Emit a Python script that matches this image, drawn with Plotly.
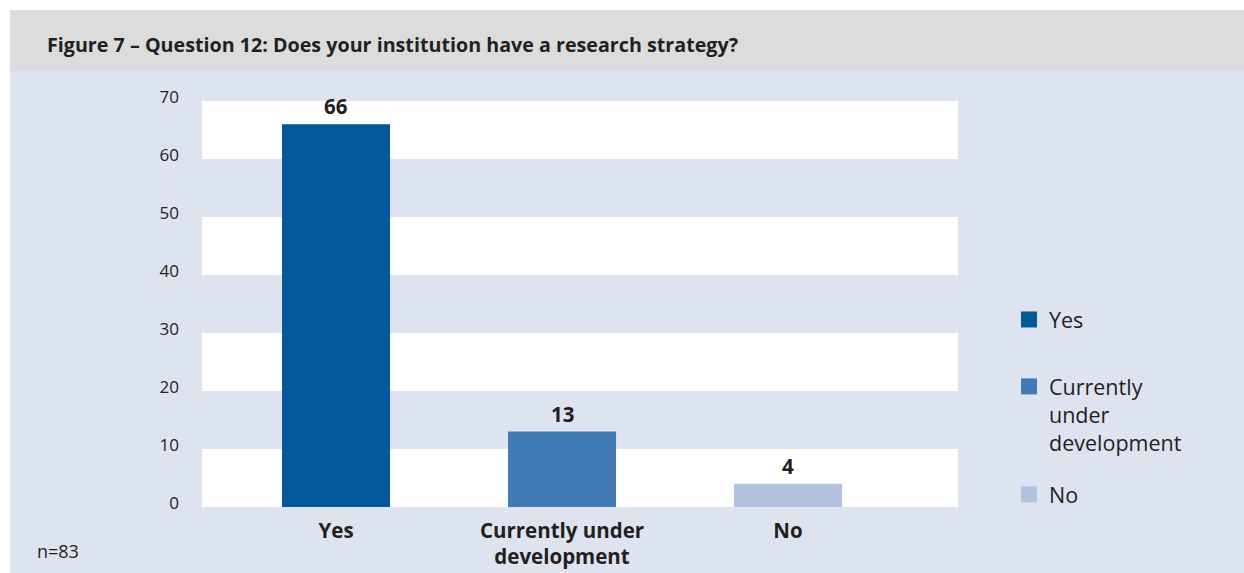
import plotly.graph_objects as go

# Survey responses
categories = ["Yes", "Currently under development", "No"]
axis_labels = ["Yes", "Currently under<br>development", "No"]
legend_labels = ["Yes", "Currently<br>under<br>development", "No"]
legend_refs = ["legend", "legend", "legend2"]
counts = [66, 13, 4]
bar_colors = ["#03599c", "#417ab5", "#b1c3de"]
y_ticks = [0, 10, 20, 30, 40, 50, 60, 70]
title_text = "Figure 7 \u2013 Question 12: Does your institution have a research strategy?"
note_text = "n=83"

W, H = 1244, 573
L, R, T, B = 202, 958, 101, 507  # plot area in pixels

def px(x):
    return (x - L) / (R - L)

def py(y):
    return (B - y) / (B - T)

FONT = "Open Sans"
TXT = "#231f20"

fig = go.Figure()

xs = list(range(len(categories)))
for i, (cat, val, col) in enumerate(zip(categories, counts, bar_colors)):
    fig.add_trace(go.Bar(
        x=[xs[i]], y=[val], name=cat, marker=dict(color=col, line=dict(width=0)),
        width=0.478, showlegend=False, hoverinfo="x+y",
    ))
    # legend swatch
    fig.add_trace(go.Scatter(
        x=[None], y=[None], mode="markers", name=legend_labels[i],
        legendgroup=cat, legend=legend_refs[i],
        marker=dict(symbol="square", size=17, color=col),
    ))

shapes = [
    # header and panel backgrounds
    dict(type="rect", xref="paper", yref="paper", x0=px(10), x1=px(W), y0=py(71), y1=py(10),
         fillcolor="#dcdcdc", line=dict(width=0), layer="below"),
    dict(type="rect", xref="paper", yref="paper", x0=px(10), x1=px(W), y0=py(H), y1=py(71),
         fillcolor="#dde4f0", line=dict(width=0), layer="below"),
]
# alternating white bands
for lo in y_ticks[:-1:2]:
    shapes.append(dict(type="rect", xref="paper", yref="y", x0=0, x1=1, y0=lo, y1=lo + 10,
                       fillcolor="white", line=dict(width=0), layer="below"))

annotations = [
    dict(text="<b>" + title_text + "</b>", xref="paper", yref="paper", x=px(45), y=py(45),
         xanchor="left", yanchor="middle", showarrow=False, font=dict(size=19.7, color=TXT, family=FONT)),
    dict(text=note_text, xref="paper", yref="paper", x=px(35), y=py(551),
         xanchor="left", yanchor="middle", showarrow=False, font=dict(size=18, color=TXT, family=FONT)),
]
for x, v in zip(xs, counts):
    annotations.append(dict(text="<b>%d</b>" % v, x=x, y=v, xref="x", yref="y",
                            xanchor="center", yanchor="bottom", yshift=2, showarrow=False,
                            font=dict(size=20.5, color=TXT, family=FONT)))

legend_style = dict(xanchor="left", yanchor="top", font=dict(size=21.5, color=TXT, family=FONT),
                    bgcolor="rgba(0,0,0,0)", itemwidth=30, valign="top")

fig.update_layout(
    width=W, height=H,
    margin=dict(l=L, r=W - R, t=T, b=H - B, pad=0, autoexpand=False),
    paper_bgcolor="white", plot_bgcolor="rgba(0,0,0,0)",
    barmode="overlay",
    shapes=shapes, annotations=annotations,
    font=dict(family=FONT, color=TXT),
    xaxis=dict(range=[-0.593, 2.752], tickvals=xs, ticktext=["<b>" + t + "</b>" for t in axis_labels],
               tickfont=dict(size=20.5, color=TXT, family=FONT), showgrid=False, zeroline=False,
               showline=False, ticks="", ticklabelstandoff=9, automargin=False, fixedrange=True),
    yaxis=dict(range=[0, 70], tickvals=y_ticks, tickfont=dict(size=17, color=TXT, family=FONT),
               showgrid=False, zeroline=False, showline=False, ticks="",
               ticklabelstandoff=22, ticklabelshift=-4, automargin=False, fixedrange=True),
    legend=dict(x=px(1009), y=py(299), tracegroupgap=36, **legend_style),
    legend2=dict(x=px(1009), y=py(474), **legend_style),
    showlegend=True,
)

fig.write_html("out.html")
